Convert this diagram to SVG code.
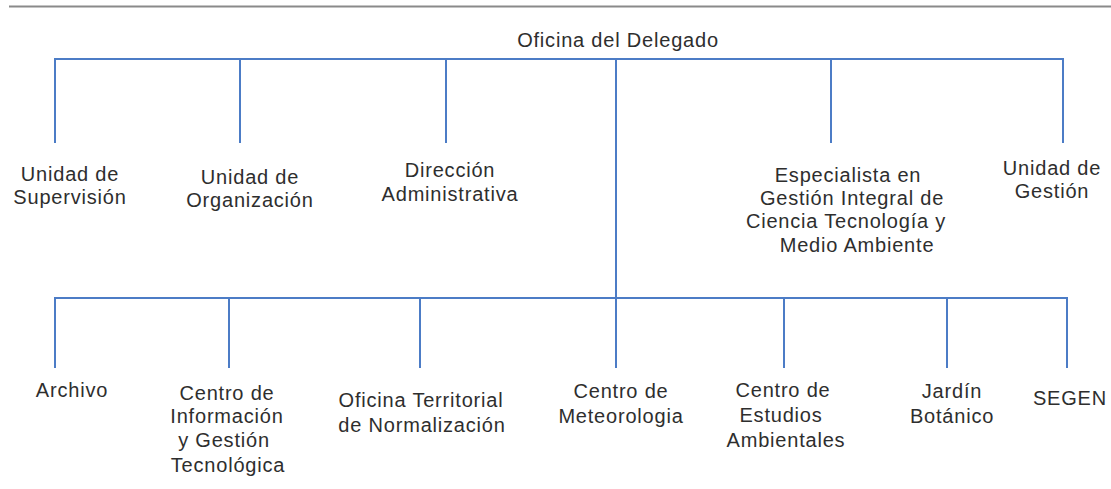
<svg xmlns="http://www.w3.org/2000/svg" width="1111" height="489" viewBox="0 0 1111 489">
<style>
  .ln { stroke: #4c7cc6; stroke-width: 2; fill: none; }
  .t { font-family: "Liberation Sans", Arial, sans-serif; font-size: 20px; letter-spacing: 0.8px; fill: #2e2e2e; text-anchor: middle; }
</style>
<rect width="1111" height="489" fill="#ffffff"/>
<line x1="9" y1="6.5" x2="1111" y2="6.5" stroke="#8a8a8a" stroke-width="2"/>
<g id="connectors">
  <path class="ln" d="M55 143 V59 H1063 V143"/>
  <path class="ln" d="M240 59 V143 M446 59 V143 M831 59 V143"/>
  <path class="ln" d="M616 59 V368"/>
  <path class="ln" d="M55 368 V298 H1067 V368"/>
  <path class="ln" d="M229 298 V368 M420 298 V368 M784 298 V368 M947 298 V368"/>
</g>
<g id="n-delegado"><text class="t" x="618" y="47">Oficina del Delegado</text></g>
<g id="n-supervision"><text class="t" x="70" y="181">Unidad de</text><text class="t" x="70" y="204">Supervisión</text></g>
<g id="n-organizacion"><text class="t" x="250" y="184">Unidad de</text><text class="t" x="250" y="207">Organización</text></g>
<g id="n-direccion"><text class="t" x="450" y="177">Dirección</text><text class="t" x="450" y="201">Administrativa</text></g>
<g id="n-especialista"><text class="t" x="848" y="182">Especialista en</text><text class="t" x="852" y="205">Gestión Integral de</text><text class="t" x="846" y="228">Ciencia Tecnología y</text><text class="t" x="857" y="252">Medio Ambiente</text></g>
<g id="n-gestion"><text class="t" x="1052" y="175">Unidad de</text><text class="t" x="1052" y="198">Gestión</text></g>
<g id="n-archivo"><text class="t" x="72" y="397">Archivo</text></g>
<g id="n-cigt"><text class="t" x="227" y="400">Centro de</text><text class="t" x="227" y="423">Información</text><text class="t" x="224" y="447">y Gestión</text><text class="t" x="228" y="472">Tecnológica</text></g>
<g id="n-otn"><text class="t" x="421" y="407">Oficina Territorial</text><text class="t" x="422" y="432">de Normalización</text></g>
<g id="n-meteo"><text class="t" x="621" y="398">Centro de</text><text class="t" x="621" y="423">Meteorologia</text></g>
<g id="n-cea"><text class="t" x="783" y="397">Centro de</text><text class="t" x="781" y="422">Estudios</text><text class="t" x="786" y="447">Ambientales</text></g>
<g id="n-jardin"><text class="t" x="952" y="398">Jardín</text><text class="t" x="952" y="423">Botánico</text></g>
<g id="n-segen"><text class="t" x="1070" y="405">SEGEN</text></g>
</svg>
